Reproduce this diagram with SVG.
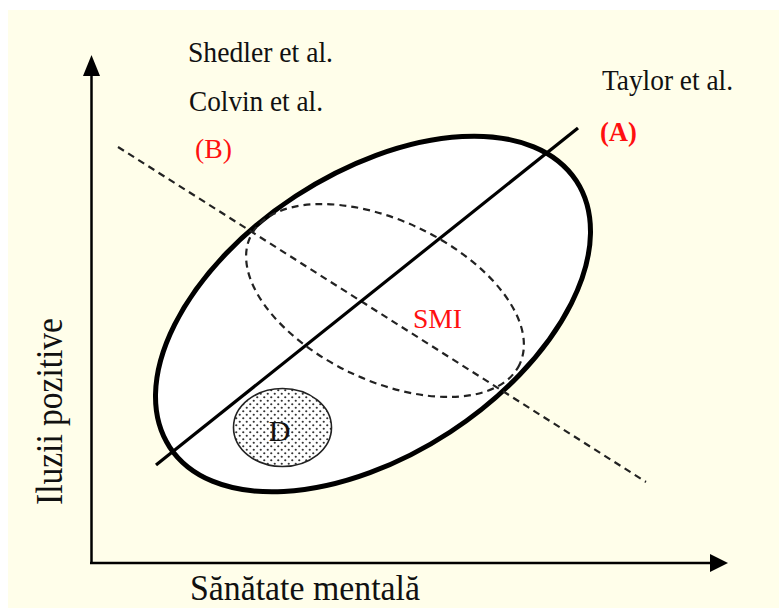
<svg xmlns="http://www.w3.org/2000/svg" width="779" height="611" viewBox="0 0 779 611">
  <defs>
    <pattern id="dots" width="7" height="7" patternUnits="userSpaceOnUse">
      <rect width="7" height="7" fill="#ffffff"/>
      <circle cx="1.75" cy="1.75" r="1.1" fill="#333"/>
      <circle cx="5.25" cy="5.25" r="1.1" fill="#333"/>
    </pattern>
  </defs>
  <style>
    .lbl { font-family: "Liberation Serif", "Times New Roman", serif; fill: #111; }
    .red { font-family: "Liberation Serif", "Times New Roman", serif; fill: #ff1010; }
    .dash { fill: none; stroke: #222; stroke-width: 2.2; stroke-dasharray: 7 5; }
    .axis { stroke: #000; stroke-width: 2.5; fill: none; }
  </style>
  <rect x="0" y="0" width="779" height="611" fill="#ffffff"/>
  <rect x="8" y="10" width="771" height="598" fill="#fffeea"/>

  <g id="axes">
    <line class="axis" x1="91.5" y1="563" x2="91.5" y2="72"/>
    <polygon points="91.5,55 83,76 100,76" fill="#000"/>
    <line class="axis" x1="90" y1="563" x2="713" y2="563"/>
    <polygon points="728,563 710,554 710,572" fill="#000"/>
  </g>

  <g id="outer-ellipse">
    <ellipse cx="373" cy="314" rx="243" ry="141" transform="rotate(-33.2 373 314)" fill="#ffffff" stroke="#000" stroke-width="5"/>
  </g>

  <g id="smi-ellipse">
    <ellipse class="dash" cx="385" cy="300.5" rx="149" ry="80" transform="rotate(25.4 385 300.5)"/>
  </g>

  <g id="connectors">
    <line class="dash" x1="118" y1="147" x2="646" y2="482"/>
    <line x1="156" y1="465" x2="578" y2="128" stroke="#000" stroke-width="3.2"/>
  </g>

  <g id="D">
    <ellipse cx="282.5" cy="427.5" rx="49" ry="39" fill="url(#dots)" stroke="#222" stroke-width="1.6"/>
    <text class="lbl" x="279.5" y="441" font-size="30" text-anchor="middle">D</text>
  </g>

  <g id="labels">
    <text class="lbl" x="188" y="62" font-size="29" textLength="145" lengthAdjust="spacingAndGlyphs">Shedler et al.</text>
    <text class="lbl" x="189" y="111" font-size="29" textLength="134" lengthAdjust="spacingAndGlyphs">Colvin et al.</text>
    <text class="lbl" x="602" y="90" font-size="29" textLength="131" lengthAdjust="spacingAndGlyphs">Taylor et al.</text>
    <text class="red" x="600" y="141" font-size="28" font-weight="bold" textLength="37" lengthAdjust="spacingAndGlyphs">(A)</text>
    <text class="red" x="195" y="158" font-size="28" textLength="37" lengthAdjust="spacingAndGlyphs">(B)</text>
    <text class="red" x="413" y="328" font-size="27" textLength="49" lengthAdjust="spacingAndGlyphs">SMI</text>
    <text class="lbl" x="190" y="600" font-size="35" textLength="230" lengthAdjust="spacingAndGlyphs">Sănătate mentală</text>
    <text class="lbl" x="0" y="0" font-size="37" textLength="187" lengthAdjust="spacingAndGlyphs" transform="translate(62 505) rotate(-90)">Iluzii pozitive</text>
  </g>
</svg>
